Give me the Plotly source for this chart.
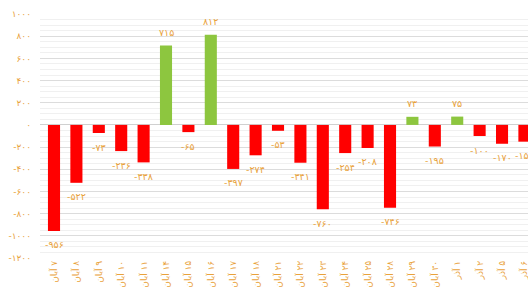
import plotly.graph_objects as go

# --- data ---
dates = ["۷ آبان", "۸ آبان", "۹ آبان", "۱۰ آبان", "۱۱ آبان", "۱۴ آبان", "۱۵ آبان",
         "۱۶ آبان", "۱۷ آبان", "۱۸ آبان", "۲۱ آبان", "۲۲ آبان", "۲۳ آبان", "۲۴ آبان",
         "۲۵ آبان", "۲۸ آبان", "۲۹ آبان", "۳۰ آبان", "۱ آذر", "۲ آذر", "۵ آذر", "۶ آذر"]
values = [-956, -522, -73, -236, -338, 715, -65, 812, -397, -274, -53, -341,
          -760, -254, -208, -746, 73, -195, 75, -100, -170, -151]
y_tick_vals = [1000, 800, 600, 400, 200, 0, -200, -400, -600, -800, -1000, -1200]
y_tick_text = ["۱۰۰۰", "۸۰۰", "۶۰۰", "۴۰۰", "۲۰۰", "۰", "-۲۰۰", "-۴۰۰", "-۶۰۰",
               "-۸۰۰", "-۱۰۰۰", "-۱۲۰۰"]

POS_COLOR = "#8DC63F"
NEG_COLOR = "#FF0000"
TEXT_COLOR = "#E9A23B"

fa_digits = str.maketrans("0123456789", "۰۱۲۳۴۵۶۷۸۹")
bar_text = [str(v).translate(fa_digits) for v in values]
cat_labels = ["\u200f" + d for d in dates]  # RTL display like the original
colors = [POS_COLOR if v >= 0 else NEG_COLOR for v in values]

fig = go.Figure(
    go.Bar(
        x=cat_labels,
        y=values,
        marker=dict(color=colors, line=dict(width=0)),
        hoverinfo="skip",
    )
)

# value labels, set a little away from the bar ends
for c, v, t in zip(cat_labels, values, bar_text):
    fig.add_annotation(
        x=c, y=v, text=t, showarrow=False,
        xanchor="center", yanchor="middle",
        yshift=13 if v >= 0 else -14,
        font=dict(color=TEXT_COLOR, size=9.5, family="DejaVu Sans"),
    )

fig.update_layout(
    width=528,
    height=295,
    margin=dict(l=40, r=0, t=14, b=37),
    paper_bgcolor="white",
    plot_bgcolor="white",
    bargap=0.46,
    showlegend=False,
    font=dict(family="DejaVu Sans", color=TEXT_COLOR, size=9),
)
fig.update_xaxes(
    type="category",
    range=[-0.625, 21.16],
    tickangle=-90,
    tickfont=dict(size=9, color=TEXT_COLOR),
    showgrid=False,
    showline=False,
    ticks="",
    automargin=False,
)
fig.update_yaxes(
    range=[-1200, 1000],
    tickvals=y_tick_vals,
    ticktext=y_tick_text,
    tickfont=dict(size=9, color=TEXT_COLOR),
    showgrid=True,
    gridcolor="#DCDCDC",
    gridwidth=1,
    minor=dict(dtick=50, showgrid=True, gridcolor="#F0F0F0", gridwidth=1),
    zeroline=True,
    zerolinecolor="#D0D0D0",
    zerolinewidth=1,
    ticks="",
    ticklabelstandoff=8,
    automargin=False,
)

fig.write_html(
    "out.html",
    config={"displayModeBar": False},
    post_script="document.body.style.margin='0';document.body.style.overflow='hidden';",
)
